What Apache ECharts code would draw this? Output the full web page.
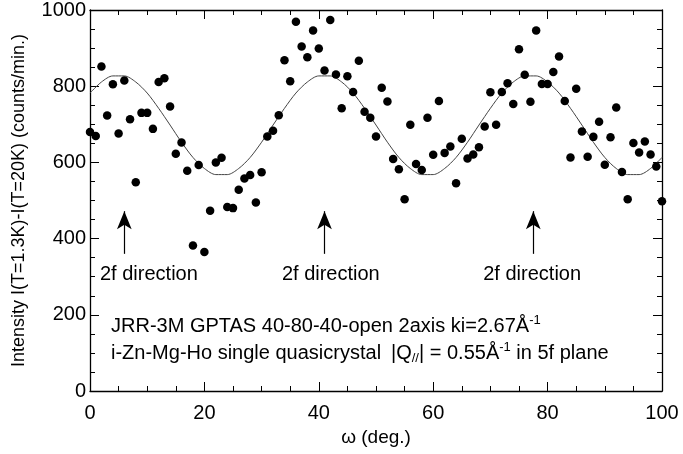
<!DOCTYPE html>
<html>
<head>
<meta charset="utf-8">
<script src="https://cdn.jsdelivr.net/npm/echarts@6/dist/echarts.min.js"></script>
<style>
  html, body { margin: 0; padding: 0; background: #fff; }
  #chart { width: 683px; height: 454px; }
</style>
</head>
<body>
<div id="chart"></div>
<script>
// measured points, omega (deg.) vs intensity difference (counts/min.)
const omega = [
  0, 1, 2, 3, 4, 5, 6, 7, 8, 9, 10, 11, 12, 13, 14, 15, 16, 17, 18, 19,
  20, 21, 22, 23, 24, 25, 26, 27, 28, 29, 30, 31, 32, 33, 34, 35, 36, 37, 38, 39,
  40, 41, 42, 43, 44, 45, 46, 47, 48, 49, 50, 51, 52, 53, 54, 55, 56, 57, 58, 59,
  60, 61, 62, 63, 64, 65, 66, 67, 68, 69, 70, 71, 72, 73, 74, 75, 76, 77, 78, 79,
  80, 81, 82, 83, 84, 85, 86, 87, 88, 89, 90, 91, 92, 93, 94, 95, 96, 97, 98, 99, 100
];
const counts = [
  680, 669, 852, 723, 805, 676, 815, 713, 548, 730, 730, 688, 811, 821, 747, 623, 652, 578, 382, 593,
  365, 473, 600, 612, 483, 480, 528, 558, 567, 495, 574, 668, 683, 724, 868, 813, 969, 904, 876, 946,
  899, 841, 974, 831, 742, 826, 785, 867, 733, 717, 668, 796, 760, 609, 582, 503, 699, 596, 580, 717,
  620, 761, 625, 642, 545, 662, 610, 621, 640, 694, 784, 699, 785, 808, 753, 897, 830, 759, 946, 806,
  806, 837, 878, 761, 613, 793, 681, 615, 667, 707, 594, 666, 744, 575, 503, 651, 626, 655, 621, 589, 498
];

// fitted curve, every 2 deg.
const fitOmega = [0, 2, 4, 6, 8, 10, 12, 14, 16, 18, 20, 22, 24, 26, 28, 30, 32, 34, 36, 38,
  40, 42, 44, 46, 48, 50, 52, 54, 56, 58, 60, 62, 64, 66, 68, 70, 72, 74, 76, 78,
  80, 82, 84, 86, 88, 90, 92, 94, 96, 98, 100];
const fitCounts = [782, 811, 827, 827, 811, 782, 742, 698, 653, 613, 584, 568, 568, 584, 613, 653, 698, 742, 782, 811,
  827, 827, 811, 782, 742, 698, 653, 613, 584, 568, 568, 584, 613, 653, 698, 742, 782, 811, 827, 827,
  811, 782, 742, 698, 653, 613, 584, 568, 568, 584, 613];

// "2f direction" arrows and their labels
const arrowOmega = [6, 41, 77.5];
const arrowFrom = 360;
const arrowTo = 472;
const labelOmega = [10.3, 42.1, 77.3];
const labelY = 305;

const xTicks = [0, 20, 40, 60, 80, 100];
const yTicks = [0, 200, 400, 600, 800, 1000];

const FONT = '"Liberation Sans", Arial, Helvetica, sans-serif';

const initChart = () => {
  const chart = echarts.init(document.getElementById('chart'));

  const axisCommon = {
    type: 'value',
    axisLine: { show: true, onZero: false, lineStyle: { color: '#000', width: 1.3 } },
    axisTick: { show: true, inside: true, length: 9, lineStyle: { color: '#000', width: 1 } },
    minorTick: { show: true, splitNumber: 4, length: 5, lineStyle: { color: '#000', width: 1 } },
    splitLine: { show: false },
    minorSplitLine: { show: false }
  };

  const option = {
    animation: false,
    backgroundColor: '#fff',
    textStyle: { fontFamily: FONT },
    grid: { left: 90, right: 21, top: 7, bottom: 63 },
    xAxis: [
      Object.assign({}, axisCommon, {
        position: 'bottom',
        min: xTicks[0], max: xTicks[xTicks.length - 1], interval: 20,
        name: 'ω (deg.)',
        nameLocation: 'middle',
        nameGap: 35,
        nameTextStyle: { fontSize: 19, color: '#000', fontFamily: FONT },
        axisLabel: { margin: 12, fontSize: 20, color: '#000', fontFamily: FONT }
      }),
      Object.assign({}, axisCommon, {
        position: 'top',
        min: xTicks[0], max: xTicks[xTicks.length - 1], interval: 20,
        axisLabel: { show: false }
      })
    ],
    yAxis: [
      Object.assign({}, axisCommon, {
        position: 'left',
        min: yTicks[0], max: yTicks[yTicks.length - 1], interval: 200,
        name: 'Intensity I(T=1.3K)-I(T=20K) (counts/min.)',
        nameLocation: 'middle',
        nameRotate: 90,
        nameGap: 62,
        nameTextStyle: { fontSize: 18, color: '#000', fontFamily: FONT },
        axisLabel: { margin: 4, fontSize: 20, color: '#000', fontFamily: FONT, formatter: v => String(v) }
      }),
      Object.assign({}, axisCommon, {
        position: 'right',
        min: yTicks[0], max: yTicks[yTicks.length - 1], interval: 200,
        axisLabel: { show: false }
      })
    ],
    series: [
      {
        name: 'fit',
        type: 'line',
        smooth: 0.3,
        showSymbol: false,
        symbol: 'none',
        data: fitOmega.map((x, i) => [x, fitCounts[i]]),
        lineStyle: { color: '#444', width: 1 },
        z: 2
      },
      {
        name: 'data',
        type: 'scatter',
        symbol: 'circle',
        symbolSize: 8.5,
        clip: false,
        data: omega.map((x, i) => [x, counts[i]]),
        itemStyle: { color: '#000', opacity: 1 },
        z: 3,
        markLine: {
          silent: true,
          symbol: ['none', 'arrow'],
          symbolSize: [11, 18],
          label: { show: false },
          lineStyle: { color: '#000', width: 1.2, type: 'solid' },
          data: arrowOmega.map(x => [{ coord: [x, arrowFrom] }, { coord: [x, arrowTo] }])
        },
        markPoint: {
          silent: true,
          symbol: 'circle',
          symbolSize: 1,
          itemStyle: { color: 'rgba(0,0,0,0)' },
          label: {
            show: true,
            position: 'inside',
            formatter: '2f direction',
            fontSize: 20,
            color: '#000',
            fontFamily: FONT
          },
          data: labelOmega.map(x => ({ coord: [x, labelY] }))
        }
      }
    ],
    graphic: [
      {
        type: 'text',
        left: 111,
        top: 314,
        style: {
          text: '{m|JRR-3M GPTAS 40-80-40-open 2axis ki=2.67Å}{s|-1}',
          rich: {
            m: { fontSize: 20, lineHeight: 24, fontFamily: FONT, fill: '#000' },
            s: { fontSize: 13, lineHeight: 24, verticalAlign: 'top', fontFamily: FONT, fill: '#000' }
          }
        }
      },
      {
        type: 'text',
        left: 111,
        top: 341,
        style: {
          text: 'i-Zn-Mg-Ho single quasicrystal',
          fontSize: 20,
          lineHeight: 24,
          fontFamily: FONT,
          fill: '#000'
        }
      },
      {
        type: 'text',
        left: 391,
        top: 341,
        style: {
          text: '{m||Q}{b|//}{m|| = 0.55Å}{s|-1}{m| in 5f plane}',
          rich: {
            m: { fontSize: 20, lineHeight: 24, fontFamily: FONT, fill: '#000' },
            s: { fontSize: 13, lineHeight: 24, verticalAlign: 'top', fontFamily: FONT, fill: '#000' },
            b: { fontSize: 13, lineHeight: 24, verticalAlign: 'bottom', fontFamily: FONT, fill: '#000' }
          }
        }
      }
    ]
  };
  chart.setOption(option);
};

initChart();
</script>
</body>
</html>
